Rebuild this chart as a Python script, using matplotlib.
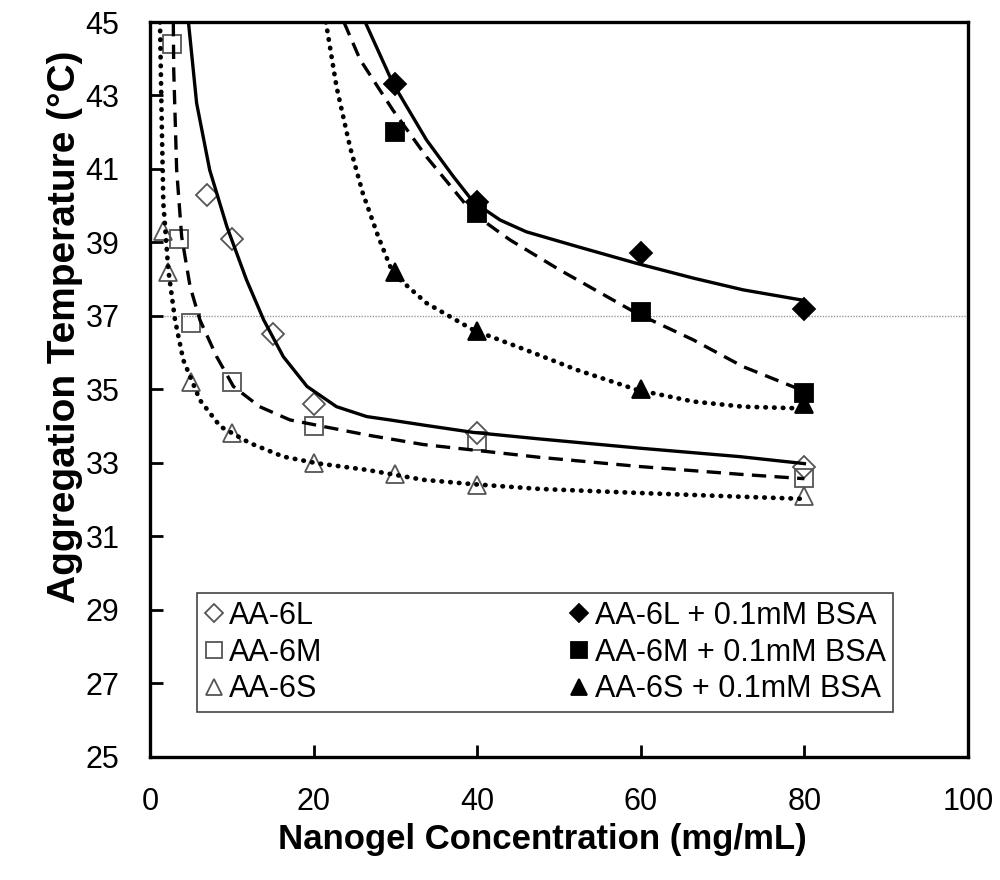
import numpy as np
import matplotlib.pyplot as plt

x_6L = [7, 10, 15, 20, 40, 80]
y_6L = [40.3, 39.1, 36.5, 34.6, 33.8, 32.9]
x_6M = [2.7, 3.5, 5, 10, 20, 40, 80]
y_6M = [44.4, 39.1, 36.8, 35.2, 34.0, 33.6, 32.6]
x_6S = [1.6, 2.2, 5, 10, 20, 30, 40, 80]
y_6S = [39.3, 38.2, 35.2, 33.8, 33.0, 32.7, 32.4, 32.1]

x_bsa = [30, 40, 60, 80]
y_6L_bsa = [43.3, 40.1, 38.7, 37.2]
y_6M_bsa = [42.0, 39.8, 37.1, 34.9]
y_6S_bsa = [38.2, 36.6, 35.0, 34.6]

# trend curves
tx_6L = [4.7, 5.7, 7.3, 9.4, 11.8, 13.9, 16.3, 19.2, 22.8, 26.5, 29.3, 33.4, 39.5, 47.7, 59.9, 72.1, 80]
ty_6L = [45, 42.79, 40.97, 39.43, 37.98, 36.89, 35.89, 35.08, 34.53, 34.26, 34.17, 34.03, 33.83, 33.65, 33.4, 33.17, 32.98]
tx_6M = [2.85, 2.9, 3.26, 3.87, 4.9, 6.1, 8.15, 10.2, 13.4, 17.1, 21.2, 26.5, 33.4, 39.5, 47.7, 59.9, 72.1, 80]
ty_6M = [45, 43.7, 40.97, 39.16, 37.8, 36.89, 35.89, 35.08, 34.53, 34.17, 33.99, 33.76, 33.5, 33.35, 33.15, 32.9, 32.69, 32.57]
tx_6S = [1.22, 1.43, 1.63, 2.24, 3.06, 4.07, 6.1, 8.6, 12.2, 16.3, 20.4, 26.5, 33.4, 39.5, 47.7, 59.9, 72.1, 80]
ty_6S = [45, 42.33, 40.07, 38.25, 36.89, 35.8, 34.71, 33.99, 33.54, 33.17, 32.99, 32.81, 32.54, 32.42, 32.29, 32.18, 32.08, 32.02]
tx_6L_bsa = [26.3, 29.7, 33.8, 37.1, 39.5, 42.8, 46.0, 52.2, 59.5, 66.4, 72.5, 80]
ty_6L_bsa = [45, 43.33, 41.79, 40.79, 40.11, 39.61, 39.29, 38.89, 38.43, 38.03, 37.71, 37.42]
tx_6M_bsa = [23.7, 25.7, 29.7, 33.8, 39.5, 44.0, 50.1, 59.5, 66.4, 72.5, 80]
ty_6M_bsa = [45, 43.97, 42.6, 41.33, 39.79, 39.07, 38.25, 37.07, 36.35, 35.62, 34.95]
tx_6S_bsa = [21.5, 22.8, 24.45, 26.0, 27.9, 29.7, 33.8, 39.5, 46.0, 52.2, 59.5, 66.4, 72.5, 80]
ty_6S_bsa = [45, 43.24, 41.6, 40.35, 39.16, 38.16, 37.35, 36.62, 36.07, 35.53, 34.99, 34.67, 34.53, 34.48]

labels = ["AA-6L", "AA-6M", "AA-6S",
          "AA-6L + 0.1mM BSA", "AA-6M + 0.1mM BSA", "AA-6S + 0.1mM BSA"]

plt.rcParams['font.family'] = ['Liberation Sans', 'DejaVu Sans']

fig, ax = plt.subplots(figsize=(10, 8.8), dpi=100)
fig.subplots_adjust(left=0.15, right=0.968, bottom=0.14, top=0.975)

ax.axhline(37, color='#999999', lw=1, ls=(0, (1, 1)), zorder=1)

series = [
    (x_6L, y_6L, tx_6L, ty_6L, 'D', 'none', '-'),
    (x_6M, y_6M, tx_6M, ty_6M, 's', 'none', '--'),
    (x_6S, y_6S, tx_6S, ty_6S, '^', 'none', ':'),
    (x_bsa, y_6L_bsa, tx_6L_bsa, ty_6L_bsa, 'D', 'black', '-'),
    (x_bsa, y_6M_bsa, tx_6M_bsa, ty_6M_bsa, 's', 'black', '--'),
    (x_bsa, y_6S_bsa, tx_6S_bsa, ty_6S_bsa, '^', 'black', ':'),
]
sizes = {'D': 11, 's': 13, '^': 13}
styles = {'-': '-', '--': (0, (4.3, 2.5)), ':': (0, (0.1, 1.75))}
handles = []
for (xs, ys, tx, ty, mk, fc, ls), lab in zip(series, labels):
    ec = '#555555' if fc == 'none' else 'black'
    h, = ax.plot(xs, ys, ls='none', marker=mk, ms=sizes[mk], mfc=fc, mec=ec,
                 mew=1.3, label=lab, zorder=3)
    handles.append(h)
    lw = 3.4 if ls == ':' else 2.4
    ax.plot(tx, ty, color='black', lw=lw, ls=styles[ls],
            dash_capstyle='round' if ls == ':' else 'butt',
            solid_joinstyle='round', zorder=4)

ax.set_xlim(0, 100)
ax.set_ylim(25, 45)
ax.set_xticks(np.arange(0, 101, 20))
ax.set_yticks(np.arange(25, 46, 2))
ax.tick_params(direction='in', length=9, width=2, labelsize=22, pad=22)
for sp in ax.spines.values():
    sp.set_linewidth(2.4)

ax.set_xlabel('Nanogel Concentration (mg/mL)', fontsize=25, fontweight='bold', labelpad=4)
ax.set_ylabel('Aggregation Temperature (°C)', fontsize=28, fontweight='bold', labelpad=2)
ax.xaxis.label.set_x(0.48)
ax.yaxis.label.set_y(0.585)

leg = ax.legend(handles=handles, ncol=2, loc='lower left',
                bbox_to_anchor=(0.0575, 0.061, 0.851, 0.163), mode='expand',
                fontsize=22, markerscale=0.85, handlelength=0.6, handletextpad=0.2,
                fancybox=False, edgecolor='#444444', framealpha=1,
                borderpad=0.25, labelspacing=0.22, borderaxespad=0)
leg.get_frame().set_linewidth(1.2)

fig.savefig('out.png', dpi=100)
